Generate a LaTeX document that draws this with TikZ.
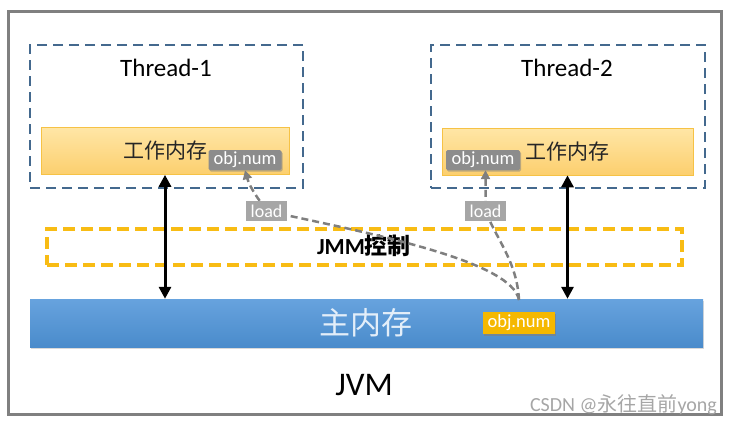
\documentclass[tikz,border=0pt]{standalone}
\usepackage{fontspec}
\setmainfont{Carlito}
\newfontfamily\cjk{Noto Sans CJK SC}
\usetikzlibrary{arrows.meta,shadows}
\definecolor{framegray}{HTML}{808080}
\definecolor{threadblue}{HTML}{44698E}
\definecolor{wmtop}{HTML}{FFE6A6}
\definecolor{wmbot}{HTML}{FCCF6E}
\definecolor{wmborder}{HTML}{F6C245}
\definecolor{objgray}{HTML}{8C8C8C}
\definecolor{loadgray}{HTML}{A6A6A6}
\definecolor{jmmgold}{HTML}{F8BC14}
\definecolor{maintop}{HTML}{67A3DE}
\definecolor{mainbot}{HTML}{4A8BCB}
\definecolor{maintext}{HTML}{E3EEF9}
\definecolor{objyellow}{HTML}{F5B800}
\definecolor{curvegray}{HTML}{7F7F7F}
\tikzset{
  jvmframe/.style={draw=framegray,line width=3pt,minimum width=713pt,minimum height=403pt,inner sep=0pt},
  threadbox/.style={draw=threadblue,line width=2.2pt,dash pattern=on 10pt off 6pt,minimum height=143pt,inner sep=0pt},
  wmbox/.style={draw=wmborder,line width=0.6pt,top color=wmtop,bottom color=wmbot,minimum height=47pt,inner sep=0pt,font=\cjk\fontsize{21}{24}\selectfont,text=black!85},
  objbox/.style={fill=objgray,text=white,minimum width=73pt,minimum height=20pt,inner sep=0pt,font=\fontsize{18.5}{20}\selectfont,rounded corners=1.5pt,drop shadow={opacity=0.5,shadow xshift=1pt,shadow yshift=-1.5pt}},
  loadbox/.style={fill=loadgray,text=white,minimum width=41pt,minimum height=20pt,inner sep=0pt,font=\fontsize{18}{20}\selectfont},
  jmmbox/.style={draw=jmmgold,line width=3.4pt,dash pattern=on 12pt off 6pt,minimum width=635pt,minimum height=36pt,inner sep=0pt},
  mainbar/.style={top color=maintop,bottom color=mainbot,minimum width=673pt,minimum height=48pt,inner sep=0pt,drop shadow={opacity=0.3,shadow xshift=1pt,shadow yshift=-2pt}},
  objmain/.style={fill=objyellow,text=white,minimum width=72pt,minimum height=22pt,inner sep=0pt,font=\fontsize{18.5}{20}\selectfont,drop shadow={opacity=0.4,shadow xshift=1pt,shadow yshift=-1.5pt}},
  syncarrow/.style={line width=3pt,{Triangle[length=12pt,width=12pt]}-{Triangle[length=12pt,width=12pt]}},
  loadcurve/.style={draw=curvegray,line width=2.5pt,dash pattern=on 7pt off 4pt,-{Triangle[length=9pt,width=9pt]}},
  lbl/.style={inner sep=0pt}
}
\begin{document}
\begin{tikzpicture}[x=1pt,y=-1pt]
\useasboundingbox (0,0) rectangle (732,424);
\node[jvmframe] (jvm) at (364.5,212.5) {};
\node[threadbox,minimum width=273pt] (t1) at (166.5,116.5) {};
\node[threadbox,minimum width=274pt] (t2) at (568,116.5) {};
\node[lbl,font=\fontsize{25}{28}\selectfont] (t1lbl) at (166,68) {Thread-1};
\node[lbl,font=\fontsize{25}{28}\selectfont] (t2lbl) at (567,68) {Thread-2};
\node[wmbox,minimum width=248pt] (wm1) at (165,151) {工作内存};
\node[wmbox,minimum width=251pt] (wm2) at (567.5,151.5) {工作内存};
\node[jmmbox] (jmm) at (364.5,247) {};
\node[lbl,font=\bfseries\fontsize{23}{26}\selectfont] (jmmlbl) at (364,246) {JMM{\cjk\bfseries 控制}};
\node[mainbar] (main) at (366.5,323) {};
\node[lbl,font=\cjk\fontsize{31}{34}\selectfont,text=maintext] (mainlbl) at (366,323) {主内存};
\draw[syncarrow] (wm1.south) -- (wm1.south |- main.north);
\draw[syncarrow] (wm2.south) -- (wm2.south |- main.north);
\node[objmain] (obj3) at (519,323) {obj.num};
\node[objbox] (obj1) at (245,160) {obj.num};
\node[objbox,minimum width=74pt] (obj2) at (483,160) {obj.num};
\coordinate (c1) at (519,300);
\draw[loadcurve] (c1) .. controls (512,262) and (380,235) .. (266.5,211) .. controls (258,198) and (250,188) .. (obj1.south);
\draw[loadcurve] (c1) .. controls (517,262) and (497,240) .. (485.5,211) -- (obj2.south -| 485.5,0);
\node[loadbox] (load1) at (266.5,211) {load};
\node[loadbox] (load2) at (485.5,211) {load};
\node[objmain] at (519,323) {obj.num};
\node[lbl,font=\fontsize{33}{36}\selectfont] (jvmlbl) at (364,385) {JVM};
\node[lbl,font=\fontsize{20}{22}\selectfont,text=black!35,anchor=east] (wmk) at (717,405) {CSDN @{\cjk 永往直前}yong};
\end{tikzpicture}
\end{document}
